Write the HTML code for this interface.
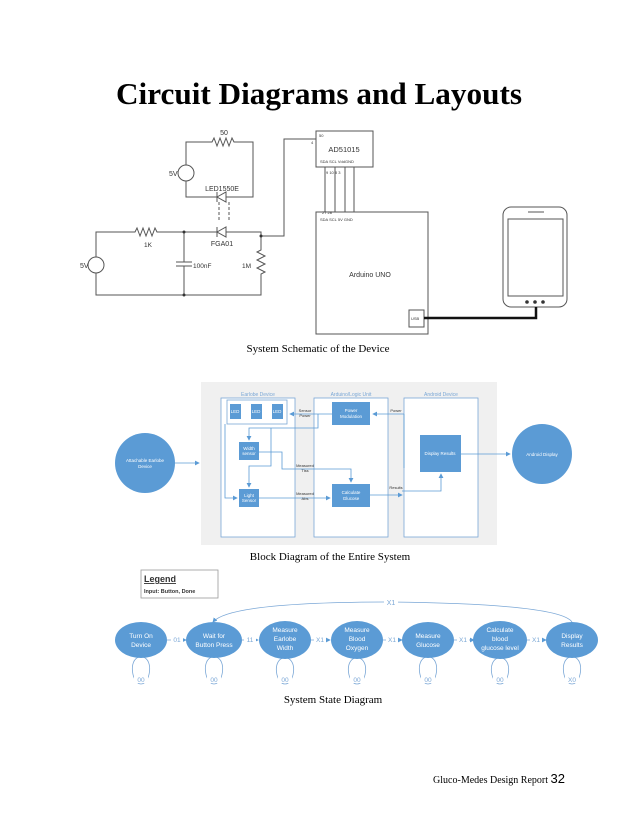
<!DOCTYPE html>
<html><head><meta charset="utf-8"><style>
html,body{margin:0;padding:0;background:#fff;}
svg{display:block;}
</style></head><body>
<svg width="638" height="826" viewBox="0 0 638 826" xmlns="http://www.w3.org/2000/svg">
<defs>
<marker id="ab" markerWidth="6" markerHeight="6" refX="5" refY="3" orient="auto"><path d="M0,0 L6,3 L0,6 z" fill="#5b9bd5"/></marker>
</defs>
<text x="319" y="104" text-anchor="middle" font-family="Liberation Serif, serif" font-weight="bold" font-size="31" textLength="406" lengthAdjust="spacingAndGlyphs">Circuit Diagrams and Layouts</text>

<!-- Schematic -->
<g stroke="#555" stroke-width="1" fill="none" font-family="Liberation Sans, sans-serif">
<path d="M186,142 H212 l2,-4 l3,8 l3,-8 l3,8 l3,-8 l3,8 l3,-8 l2,4 H253 V197 H186 Z"/>
<circle cx="186" cy="173" r="8" fill="#fff"/>
<path d="M217,197 l9,-5 v10 z M217,192 v10" fill="#fff"/>
<path d="M219,202 V222 M229,202 V222" stroke-dasharray="3,2"/>
<path d="M96,232 H135 l2,-4 l3,8 l3,-8 l3,8 l3,-8 l3,8 l3,-8 l2,4 H261 V250 l-4,2 l8,4 l-8,4 l8,4 l-8,4 l8,4 l-4,2 V295 H96 Z"/>
<path d="M217,232 l9,-5 v10 z M217,227 v10" fill="#fff"/>
<circle cx="96" cy="265" r="8" fill="#fff"/>
<path d="M184,232 V262 M176,262 H192 M176,266 H192 M184,266 V295"/>
<path d="M261,236 H284 V139 H316"/>
<rect x="316" y="131" width="57" height="36"/>
<path d="M325,167 V212 M335,167 V212 M345,167 V212 M354,167 V212"/>
<rect x="316" y="212" width="112" height="122"/>
<rect x="409" y="310" width="15" height="17"/>
<rect x="503" y="207" width="64" height="100" rx="8"/>
<rect x="508" y="219" width="55" height="77"/>
<path d="M528,212 H544"/>
</g>
<g fill="#333">
<circle cx="184" cy="232" r="1.5"/><circle cx="184" cy="295" r="1.5"/><circle cx="261" cy="236" r="1.5"/>
<circle cx="527" cy="302" r="1.8"/><circle cx="535" cy="302" r="1.8"/><circle cx="543" cy="302" r="1.8"/>
</g>
<path d="M424,318 H536 V307" stroke="#111" stroke-width="2.5" fill="none"/>
<g font-family="Liberation Sans, sans-serif" fill="#333">
<text x="224" y="135" font-size="7" text-anchor="middle">50</text>
<text x="169" y="176" font-size="7">5V</text>
<text x="80" y="268" font-size="7">5V</text>
<text x="222" y="191" font-size="7" text-anchor="middle">LED1550E</text>
<text x="222" y="246" font-size="7" text-anchor="middle">FGA01</text>
<text x="148" y="247" font-size="6.5" text-anchor="middle">1K</text>
<text x="193" y="268" font-size="6.5">100nF</text>
<text x="242" y="268" font-size="6.5">1M</text>
<text x="344" y="152" font-size="7.5" text-anchor="middle">AD51015</text>
<text x="320" y="163" font-size="4">SDA SCL VddGND</text>
<text x="326" y="174" font-size="4">9  10  8  3</text>
<text x="319" y="137" font-size="4">50</text>
<text x="311" y="144" font-size="4">4</text>
<text x="322" y="214" font-size="4">27 28</text>
<text x="320" y="221" font-size="4">SDA SCL 5V GND</text>
<text x="370" y="277" font-size="7" text-anchor="middle">Arduino UNO</text>
<text x="411" y="320" font-size="4">USB</text>
</g>
<text x="318" y="352" text-anchor="middle" font-family="Liberation Serif, serif" font-size="11">System Schematic of the Device</text>

<!-- Block diagram -->
<rect x="201" y="382" width="296" height="163" fill="#f0f0f0"/>
<g fill="#fff" stroke="#7aa7d6" stroke-width="0.8">
<rect x="221" y="398" width="74" height="139"/>
<rect x="314" y="398" width="74" height="139"/>
<rect x="404" y="398" width="74" height="139"/>
<rect x="227" y="400" width="60" height="24"/>
</g>
<g fill="#7aa7d6" font-family="Liberation Sans, sans-serif" font-size="5" text-anchor="middle">
<text x="258" y="396">Earlobe Device</text><text x="351" y="396">Arduino/Logic Unit</text><text x="441" y="396">Android Device</text>
</g>
<g fill="#5b9bd5">
<circle cx="145" cy="463" r="30"/><circle cx="542" cy="454" r="30"/>
<rect x="230" y="404" width="11" height="15"/><rect x="251" y="404" width="11" height="15"/><rect x="272" y="404" width="11" height="15"/>
<rect x="332" y="402" width="38" height="23"/>
<rect x="239" y="442" width="20" height="18"/><rect x="239" y="489" width="20" height="18"/>
<rect x="332" y="484" width="38" height="23"/>
<rect x="420" y="435" width="41" height="37"/>
</g>
<g fill="none" stroke="#5b9bd5" stroke-width="0.8">
<path d="M175,463 H199" marker-end="url(#ab)"/>
<path d="M461,454 H510" marker-end="url(#ab)"/>
<path d="M332,414 H290" marker-end="url(#ab)"/>
<path d="M404,414 H373" marker-end="url(#ab)"/>
<path d="M404,414 V468"/>
<path d="M318,414 V428 H249 V440" marker-end="url(#ab)"/>
<path d="M271,428 V466 H249 V487" marker-end="url(#ab)"/>
<path d="M225,424 V498 H237" marker-end="url(#ab)"/>
<path d="M259,452 H282 V469 H351 V482" marker-end="url(#ab)"/>
<path d="M259,498 H330" marker-end="url(#ab)"/>
<path d="M370,495 H402" marker-end="url(#ab)"/>
<path d="M402,491 H441 V474" marker-end="url(#ab)"/>
</g>
<g fill="#fff" font-family="Liberation Sans, sans-serif" font-size="4.5" text-anchor="middle">
<text x="145" y="462">Attachable Earlobe</text><text x="145" y="468">Device</text>
<text x="542" y="456">Android Display</text>
<text x="235" y="413">LED</text><text x="256" y="413">LED</text><text x="277" y="413">LED</text>
<text x="351" y="412">Power</text><text x="351" y="418">Modulation</text>
<text x="249" y="450">Width</text><text x="249" y="455">sensor</text>
<text x="249" y="497">Light</text><text x="249" y="502">Sensor</text>
<text x="351" y="494">Calculate</text><text x="351" y="500">Glucose</text>
<text x="440" y="455">Display Results</text>
</g>
<g fill="#333" font-family="Liberation Sans, sans-serif" font-size="4" text-anchor="middle">
<text x="305" y="412">Sensor</text><text x="305" y="417">Power</text>
<text x="396" y="412">Power</text>
<text x="305" y="467">Measured</text><text x="305" y="472">Tiss</text>
<text x="305" y="495">Measured</text><text x="305" y="500">Abs</text>
<text x="396" y="489">Results</text>
</g>
<text x="330" y="560" text-anchor="middle" font-family="Liberation Serif, serif" font-size="11">Block Diagram of the Entire System</text>

<!-- State diagram -->
<rect x="141" y="570" width="77" height="28" fill="#fff" stroke="#999" stroke-width="0.8"/>
<text x="144" y="582" font-family="Liberation Sans, sans-serif" font-size="9" font-weight="bold" fill="#333" text-decoration="underline">Legend</text>
<text x="144" y="593" font-family="Liberation Sans, sans-serif" font-size="5.5" font-weight="bold" fill="#333">Input: Button, Done</text>
<path d="M572,622 Q560,604 391,602 Q230,602 213,622" fill="none" stroke="#7aa7d6" stroke-width="0.8" marker-end="url(#ab)"/>
<rect x="384" y="598" width="14" height="8" fill="#fff"/>
<text x="391" y="605" text-anchor="middle" font-family="Liberation Sans, sans-serif" font-size="7" fill="#7aa7d6">X1</text>
<g fill="none" stroke="#7aa7d6" stroke-width="0.8">
<path d="M139,657 C128,660 132,684 141,684 C150,684 154,660 143,657"/>
<path d="M212,657 C201,660 205,684 214,684 C223,684 227,660 216,657"/>
<path d="M283,658 C272,661 276,684 285,684 C294,684 298,661 287,658"/>
<path d="M355,658 C344,661 348,684 357,684 C366,684 370,661 359,658"/>
<path d="M426,657 C415,660 419,684 428,684 C437,684 441,660 430,657"/>
<path d="M498,658 C487,661 491,684 500,684 C509,684 513,661 502,658"/>
<path d="M570,657 C559,660 563,684 572,684 C581,684 585,660 574,657"/>
<path d="M167,640 H186" marker-end="url(#ab)"/><path d="M242,640 H258" marker-end="url(#ab)"/>
<path d="M311,640 H330" marker-end="url(#ab)"/><path d="M383,640 H402" marker-end="url(#ab)"/>
<path d="M454,640 H474" marker-end="url(#ab)"/><path d="M526,640 H546" marker-end="url(#ab)"/>
</g>
<g fill="#5b9bd5">
<ellipse cx="141" cy="640" rx="26" ry="18"/><ellipse cx="214" cy="640" rx="28" ry="18"/>
<ellipse cx="285" cy="640" rx="26" ry="19"/><ellipse cx="357" cy="640" rx="26" ry="19"/>
<ellipse cx="428" cy="640" rx="26" ry="18"/><ellipse cx="500" cy="640" rx="27" ry="19"/>
<ellipse cx="572" cy="640" rx="26" ry="18"/>
</g>
<g font-family="Liberation Sans, sans-serif" font-size="6.5" fill="#7aa7d6" text-anchor="middle">
<g fill="#fff">
<rect x="171" y="636" width="12" height="8"/><rect x="244" y="636" width="12" height="8"/><rect x="314" y="636" width="12" height="8"/>
<rect x="386" y="636" width="12" height="8"/><rect x="457" y="636" width="12" height="8"/><rect x="530" y="636" width="12" height="8"/>
<rect x="134" y="675" width="14" height="8"/><rect x="207" y="675" width="14" height="8"/><rect x="278" y="675" width="14" height="8"/>
<rect x="350" y="675" width="14" height="8"/><rect x="421" y="675" width="14" height="8"/><rect x="493" y="675" width="14" height="8"/><rect x="565" y="675" width="14" height="8"/>
</g>
<text x="177" y="642">01</text><text x="250" y="642">11</text><text x="320" y="642">X1</text>
<text x="392" y="642">X1</text><text x="463" y="642">X1</text><text x="536" y="642">X1</text>
<text x="141" y="682">00</text><text x="214" y="682">00</text><text x="285" y="682">00</text>
<text x="357" y="682">00</text><text x="428" y="682">00</text><text x="500" y="682">00</text><text x="572" y="682">X0</text>
</g>
<g font-family="Liberation Sans, sans-serif" font-size="6.5" fill="#fff" text-anchor="middle">
<text x="141" y="638">Turn On</text><text x="141" y="647">Device</text>
<text x="214" y="638">Wait for</text><text x="214" y="647">Button Press</text>
<text x="285" y="632">Measure</text><text x="285" y="641">Earlobe</text><text x="285" y="650">Width</text>
<text x="357" y="632">Measure</text><text x="357" y="641">Blood</text><text x="357" y="650">Oxygen</text>
<text x="428" y="638">Measure</text><text x="428" y="647">Glucose</text>
<text x="500" y="632">Calculate</text><text x="500" y="641">blood</text><text x="500" y="650">glucose level</text>
<text x="572" y="638">Display</text><text x="572" y="647">Results</text>
</g>
<text x="333" y="703" text-anchor="middle" font-family="Liberation Serif, serif" font-size="11">System State Diagram</text>

<text x="565" y="783" text-anchor="end" font-family="Liberation Serif, serif" font-size="10">Gluco-Medes Design Report <tspan font-family="Liberation Sans, sans-serif" font-size="13">32</tspan></text>
</svg>
</body></html>
